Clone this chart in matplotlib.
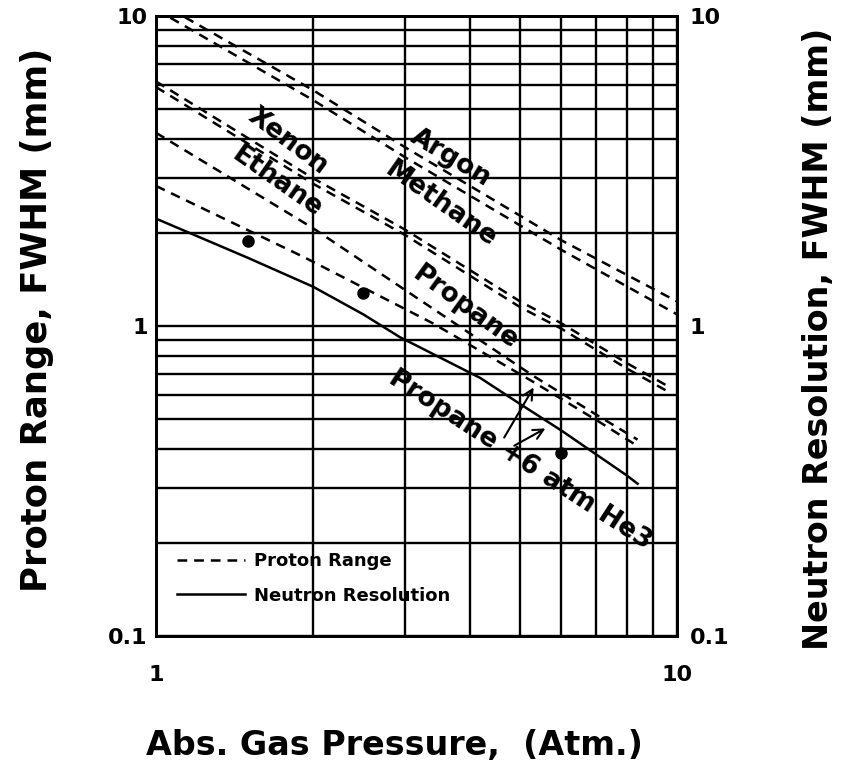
import matplotlib.pyplot as plt
from matplotlib.lines import Line2D
from matplotlib.ticker import NullFormatter

plt.rcParams['font.family'] = ['DejaVu Sans']
plt.rcParams['font.weight'] = 'bold'
plt.rcParams['lines.scale_dashes'] = False

# proton range (mm) vs absolute gas pressure (atm)
argon_p = [1.0, 2.0, 3.0, 6.0, 10.0]
argon_r = [11.2, 5.77, 3.78, 1.89, 1.2]
methane_p = [1.0, 2.0, 3.0, 6.0, 10.0]
methane_r = [10.5, 5.36, 3.51, 1.76, 1.09]
xenon_p = [1.0, 2.0, 3.0, 5.0, 6.0, 8.0, 9.6]
xenon_r = [6.15, 3.0, 2.05, 1.2, 1.02, 0.76, 0.64]
ethane_p = [1.0, 2.0, 3.0, 5.0, 6.0, 8.0, 9.6]
ethane_r = [5.9, 2.88, 1.97, 1.15, 0.98, 0.73, 0.615]
propane_p = [1.0, 2.0, 2.94, 5.3, 7.1, 8.4]
propane_r = [4.2, 2.07, 1.34, 0.69, 0.51, 0.43]
prop_he3_p = [1.0, 1.92, 3.4, 5.3, 7.1, 8.4]
prop_he3_r = [2.83, 1.67, 1.02, 0.66, 0.49, 0.41]

# neutron resolution (mm), propane + 6 atm He3
res_p = [1.0, 1.5, 2.0, 2.5, 2.94, 4.19, 5.0, 6.0, 8.0, 8.4]
res_r = [2.22, 1.66, 1.34, 1.09, 0.92, 0.68, 0.56, 0.46, 0.33, 0.31]

# measured points
meas_p = [1.5, 2.5, 6.0]
meas_r = [1.88, 1.28, 0.39]

DASH = (7, 5)
LW = 1.8

fig = plt.figure(figsize=(8.51, 7.84), dpi=100)
ax = fig.add_axes([156 / 851, 148 / 784, 521 / 851, 620 / 784])
ax.set_xscale('log')
ax.set_yscale('log')
ax.set_xlim(1, 10)
ax.set_ylim(0.1, 10)

for p, r in [(argon_p, argon_r), (methane_p, methane_r),
             (xenon_p, xenon_r), (ethane_p, ethane_r),
             (propane_p, propane_r), (prop_he3_p, prop_he3_r)]:
    ax.plot(p, r, color='black', lw=LW, dashes=DASH, dash_capstyle='butt')

ax.plot(res_p, res_r, color='black', lw=LW)
ax.plot(meas_p, meas_r, 'o', color='black', ms=8)

ax.grid(True, which='both', color='black', lw=1.7)
ax.set_xticks([1, 10])
ax.set_xticklabels(['1', '10'])
ax.set_yticks([0.1, 1, 10])
ax.set_yticklabels(['0.1', '1', '10'])
ax.xaxis.set_minor_formatter(NullFormatter())
ax.yaxis.set_minor_formatter(NullFormatter())
ax.tick_params(axis='x', which='both', length=0, labelsize=16, pad=21)
ax.tick_params(axis='y', which='both', length=0, labelsize=16, pad=6)
for s in ax.spines.values():
    s.set_linewidth(2)

ax.set_xlabel('Abs. Gas Pressure,  (Atm.)', fontsize=24, fontweight='bold', va='center')
ax.xaxis.set_label_coords(0.457, -0.176)
ax.set_ylabel('Proton Range, FWHM (mm)', fontsize=25.5, fontweight='bold', va='center')
ax.yaxis.set_label_coords(-0.228, 0.51)

# right-hand scale
ax2 = ax.twinx()
ax2.set_yscale('log')
ax2.set_ylim(0.1, 10)
ax2.set_yticks([0.1, 1, 10])
ax2.set_yticklabels(['0.1', '1', '10'])
ax2.yaxis.set_minor_formatter(NullFormatter())
ax2.tick_params(which='both', length=0, labelsize=16, pad=9)
ax2.set_ylabel('Neutron Resolution, FWHM (mm)', fontsize=24, fontweight='bold', va='center')
ax2.yaxis.set_label_coords(1.271, 0.48)
for s in ax2.spines.values():
    s.set_linewidth(2)

# curve labels
lbl = dict(ha='center', va='center', fontsize=19, fontweight='bold')
ax.text(3.68, 3.48, 'Argon', rotation=-31, **lbl)
ax.text(3.52, 2.46, 'Methane', rotation=-35, **lbl)
ax.text(1.79, 3.95, 'Xenon', rotation=-37, **lbl)
ax.text(1.71, 2.91, 'Ethane', rotation=-35, **lbl)
ax.text(3.92, 1.14, 'Propane', rotation=-36, **lbl)
ax.text(5.0, 0.37, 'Propane +6 atm He3', rotation=-33, **lbl)

arrow = dict(arrowstyle='->', color='black', lw=1.5, mutation_scale=18)
ax.annotate('', xy=(5.34, 0.645), xytext=(4.63, 0.429), arrowprops=arrow)
ax.annotate('', xy=(5.65, 0.472), xytext=(4.82, 0.407), arrowprops=arrow)

handles = [Line2D([], [], color='black', lw=LW, dashes=DASH),
           Line2D([], [], color='black', lw=LW)]
ax.legend(handles, ['Proton Range', 'Neutron Resolution'], loc='upper left',
          bbox_to_anchor=(0.04, 0.135), frameon=False, fontsize=13,
          handlelength=3.8, handletextpad=0.5, labelspacing=0.9,
          borderaxespad=0, borderpad=0)

fig.savefig('out.png', dpi=100)
